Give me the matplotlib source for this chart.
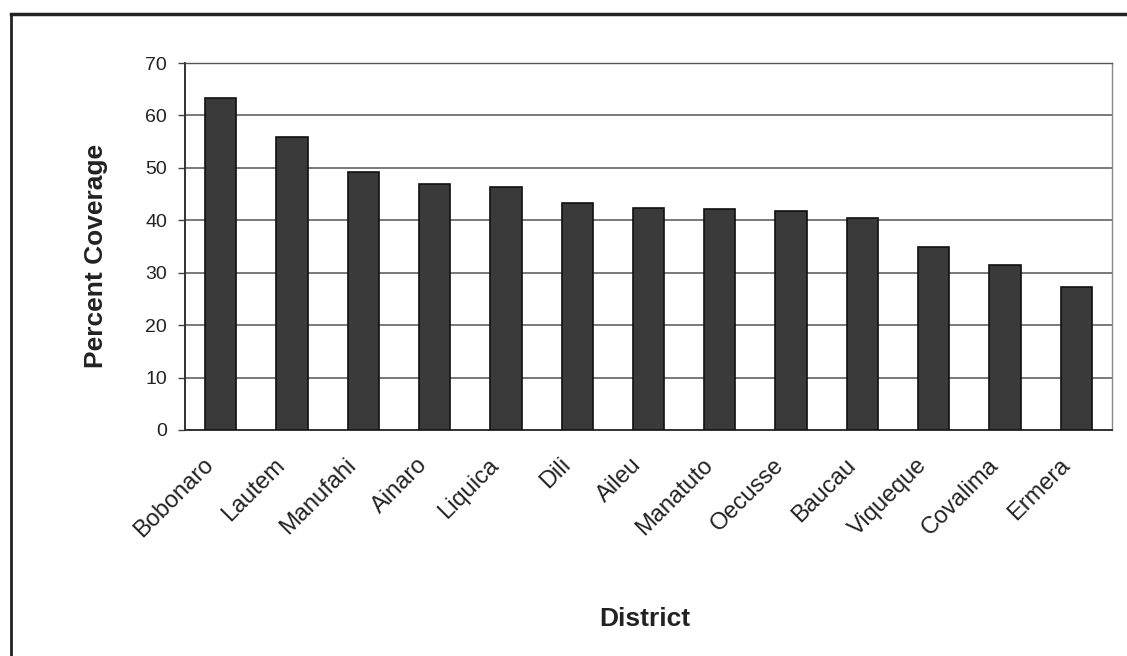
import matplotlib
matplotlib.use("Agg")
import matplotlib.pyplot as plt
from matplotlib.lines import Line2D
from matplotlib.transforms import ScaledTranslation

districts = ["Bobonaro", "Lautem", "Manufahi", "Ainaro", "Liquica", "Dili", "Aileu",
             "Manatuto", "Oecusse", "Baucau", "Viqueque", "Covalima", "Ermera"]
coverage = [63.3, 55.8, 49.2, 46.9, 46.4, 43.3, 42.4, 42.2, 41.7, 40.4, 34.9, 31.5, 27.2]
yticks = [0, 10, 20, 30, 40, 50, 60, 70]

plt.rcParams['font.family'] = ['Liberation Sans', 'DejaVu Sans']

fig = plt.figure(figsize=(11.27, 6.56), dpi=100)
W, H = 1127, 656
left, right, top, bottom = 185, 1112, 63, 430
ax = fig.add_axes([left / W, 1 - bottom / H, (right - left) / W, (bottom - top) / H])

x = list(range(len(districts)))
ax.bar(x, coverage, width=0.44, color="#3a3a3a", edgecolor="#111111", linewidth=1.2, zorder=3)
ax.set_xlim(-0.5, len(districts) - 0.5)
ax.set_ylim(0, 70)
ax.set_yticks(yticks)
ax.set_yticklabels([str(t) for t in yticks], fontsize=14, color="#222222")
ax.yaxis.grid(True, color="#555555", linewidth=1.1, zorder=0)
ax.tick_params(axis="y", direction="out", length=5, width=1, color="#444444", pad=8)
ax.set_xticks(x)
ax.set_xticklabels(districts, rotation=45, ha="right", va="top", rotation_mode="anchor",
                   fontsize=17, color="#222222")
ax.tick_params(axis="x", length=0, pad=0)
off = ScaledTranslation(-18 / 100, -24 / 100, fig.dpi_scale_trans)
for lab in ax.get_xticklabels():
    lab.set_transform(lab.get_transform() + off)

for s in ["left", "bottom"]:
    ax.spines[s].set_color("#333333")
    ax.spines[s].set_linewidth(1.4)
ax.spines["top"].set_color("#555555")
ax.spines["top"].set_linewidth(1.0)
ax.spines["right"].set_color("#888888")
ax.spines["right"].set_linewidth(1.0)

fig.text(96 / W, 1 - 256 / H, "Percent Coverage", fontsize=19, fontweight="bold", color="#222222",
         ha="center", va="center", rotation=90)
fig.text(645 / W, 1 - 619 / H, "District", fontsize=19, fontweight="bold", color="#222222",
         ha="center", va="center")

# outer frame lines (left and top)
fig.add_artist(Line2D([11 / W, 11 / W], [0, 1 - 14 / H], transform=fig.transFigure, color="#222222", linewidth=2))
fig.add_artist(Line2D([11 / W, 1], [1 - 14 / H, 1 - 14 / H], transform=fig.transFigure, color="#222222", linewidth=2.5))

fig.savefig("out.png", dpi=100)
